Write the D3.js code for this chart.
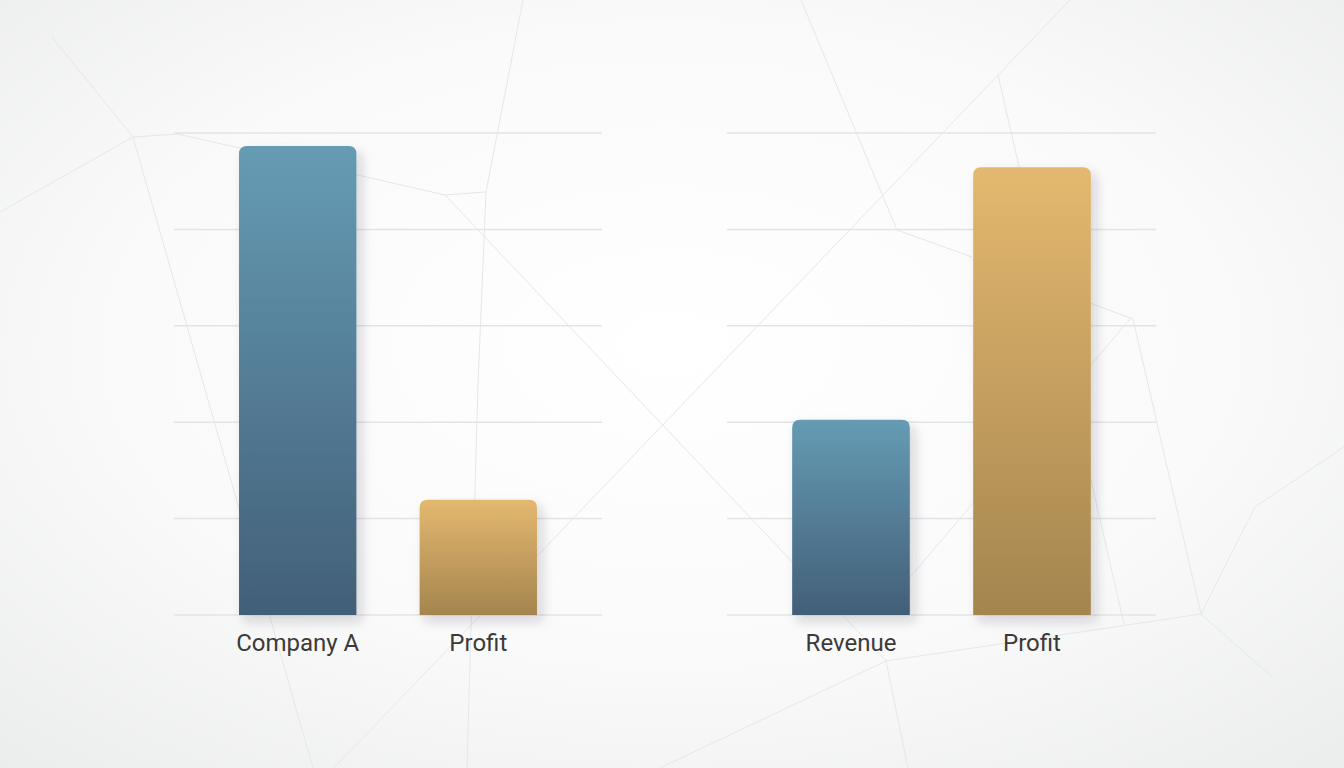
<!DOCTYPE html>
<html>
<head>
<meta charset="utf-8">
<script src="https://cdn.jsdelivr.net/npm/d3@7"></script>
<style>
  html, body { margin: 0; padding: 0; background: #f3f4f4; }
  svg { display: block; }
  .label { font-family: Roboto, "Noto Sans", sans-serif; font-size: 24px; fill: #3a3a3a; }
</style>
</head>
<body>
<svg id="chart"></svg>
<script>
// data (scale 0..100, gridline every 20)
const leftCategories = ["Company A", "Profit"];
const leftValues = [97.3, 23.9];
const rightCategories = ["Revenue", "Profit"];
const rightValues = [40.5, 92.9];
const gridTicks = [0, 20, 40, 60, 80, 100];
const barKinds = ["blue", "gold"];

// faint background polygon lines (decoration only)
const bgLines = [
  [[52, 37], [133, 137], [0, 212]],
  [[133, 137], [178, 134], [445, 195], [485, 192]],
  [[133, 137], [313, 768]],
  [[523, 0], [486, 192], [478, 384], [467, 768]],
  [[445, 195], [886, 661]],
  [[1070, 0], [334, 768]],
  [[886, 661], [660, 768]],
  [[886, 661], [1201, 614]],
  [[886, 661], [908, 768]],
  [[801, 0], [897, 230], [972, 257]],
  [[998, 75], [1124, 624]],
  [[1090, 303], [1133, 319], [1201, 614], [1272, 677]],
  [[1131, 318], [905, 583]],
  [[1201, 614], [1255, 507], [1344, 447]]
];

const width = 1344, height = 768;
const svg = d3.select("#chart").attr("width", width).attr("height", height);
const defs = svg.append("defs");

// page background
const bg = defs.append("radialGradient").attr("id", "bg")
  .attr("cx", "50%").attr("cy", "45%").attr("r", "75%");
bg.append("stop").attr("offset", "0%").attr("stop-color", "#ffffff");
bg.append("stop").attr("offset", "55%").attr("stop-color", "#fafafa");
bg.append("stop").attr("offset", "100%").attr("stop-color", "#ebecec");

const grads = {
  blue: ["#669bb4", "#425f78"],
  gold: ["#e4b86f", "#a4854f"]
};
Object.keys(grads).forEach(k => {
  const g = defs.append("linearGradient").attr("id", "g-" + k)
    .attr("x1", 0).attr("y1", 0).attr("x2", 0).attr("y2", 1);
  g.append("stop").attr("offset", "0%").attr("stop-color", grads[k][0]);
  g.append("stop").attr("offset", "100%").attr("stop-color", grads[k][1]);
});

const shadow = defs.append("filter").attr("id", "shadow")
  .attr("x", "-30%").attr("y", "-10%").attr("width", "170%").attr("height", "130%");
shadow.append("feDropShadow")
  .attr("dx", 5).attr("dy", 6).attr("stdDeviation", 6)
  .attr("flood-color", "#1a2a35").attr("flood-opacity", 0.18);

svg.append("rect").attr("width", width).attr("height", height).attr("fill", "url(#bg)");

svg.append("g").selectAll("path")
  .data(bgLines)
  .enter().append("path")
  .attr("d", d3.line())
  .attr("fill", "none")
  .attr("stroke", "#e5e7e8")
  .attr("stroke-width", 1);

const y = d3.scaleLinear().domain([0, 100]).range([615, 133]);

function topRounded(x0, y0, w, h, r) {
  r = Math.min(r, h, w / 2);
  return "M" + x0 + "," + (y0 + h) +
    "V" + (y0 + r) +
    "Q" + x0 + "," + y0 + " " + (x0 + r) + "," + y0 +
    "H" + (x0 + w - r) +
    "Q" + (x0 + w) + "," + y0 + " " + (x0 + w) + "," + (y0 + r) +
    "V" + (y0 + h) + "Z";
}

function panel(cats, vals, x0, x1) {
  const x = d3.scaleBand().domain(cats).range([x0, x1])
    .paddingInner(0.35).paddingOuter(0.36);
  const g = svg.append("g");

  g.append("g").selectAll("line")
    .data(gridTicks)
    .enter().append("line")
    .attr("x1", x0).attr("x2", x1)
    .attr("y1", d => y(d)).attr("y2", d => y(d))
    .attr("stroke", "#e3e4e5")
    .attr("stroke-width", 1.5);

  const rows = cats.map((c, i) => ({ c: c, v: vals[i], kind: barKinds[i] }));

  g.append("g").selectAll("path")
    .data(rows)
    .enter().append("path")
    .attr("d", d => topRounded(x(d.c), y(d.v), x.bandwidth(), y(0) - y(d.v), 8))
    .attr("fill", d => "url(#g-" + d.kind + ")")
    .attr("filter", "url(#shadow)");

  const axis = d3.axisBottom(x).tickSize(0).tickPadding(19);
  const ax = g.append("g").attr("transform", "translate(0," + y(0) + ")").call(axis);
  ax.select(".domain").remove();
  ax.selectAll("text").attr("class", "label").attr("fill", null);
}

panel(leftCategories, leftValues, 174, 602);
panel(rightCategories, rightValues, 727, 1156);
</script>
</body>
</html>
